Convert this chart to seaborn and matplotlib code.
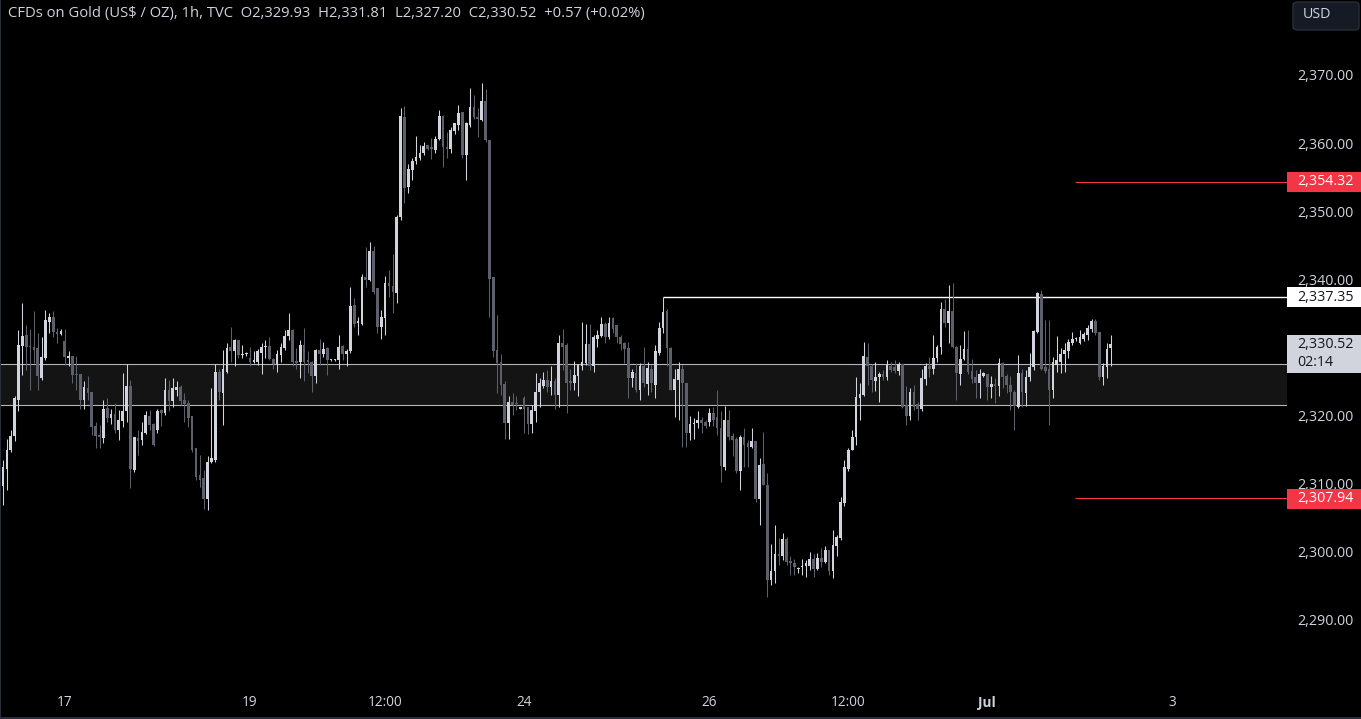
import numpy as np
import pandas as pd
import matplotlib
matplotlib.use("Agg")
import matplotlib.pyplot as plt
import matplotlib.transforms as mtransforms
from matplotlib.patches import Rectangle, FancyBboxPatch
import seaborn as sns

# ---------------- data (hourly candles) ----------------
opens = [
    2309.6, 2312.1, 2314.9, 2317.0, 2322.3, 2330.2, 2331.8, 2330.1, 2330.1, 2329.9,
    2325.5, 2328.4, 2333.8, 2334.4, 2332.3, 2332.0, 2330.9, 2328.5, 2328.7, 2326.1,
    2326.1, 2322.3, 2324.0, 2323.4, 2318.4, 2317.1, 2316.7, 2321.1, 2319.7, 2320.2,
    2317.8, 2319.2, 2320.6, 2324.3, 2312.0, 2316.7, 2316.4, 2317.5, 2319.9, 2318.7,
    2317.8, 2320.8, 2320.4, 2323.8, 2322.2, 2323.8, 2324.2, 2322.3, 2321.8, 2319.9,
    2315.3, 2311.2, 2310.8, 2307.8, 2313.2, 2313.4, 2326.4, 2323.3, 2326.4, 2330.1,
    2329.4, 2331.1, 2328.9, 2329.0, 2328.5, 2327.9, 2327.8, 2329.2, 2330.0, 2330.2,
    2328.3, 2327.6, 2328.9, 2329.9, 2331.7, 2332.5, 2328.0, 2327.8, 2330.3, 2328.2,
    2327.9, 2325.8, 2329.6, 2329.0, 2329.9, 2328.1, 2328.1, 2328.1, 2330.2, 2329.1,
    2329.4, 2336.2, 2333.6, 2333.5, 2340.4, 2339.9, 2344.1, 2338.7, 2333.0, 2334.3,
    2339.5, 2339.0, 2338.0, 2349.1, 2363.8, 2353.5, 2356.1, 2357.3, 2357.8, 2358.5,
    2359.7, 2359.5, 2359.0, 2360.6, 2364.0, 2359.5, 2359.2, 2361.8, 2362.7, 2364.5,
    2358.3, 2362.7, 2365.3, 2363.9, 2363.4, 2366.2, 2360.5, 2340.4, 2329.6, 2327.8,
    2324.6, 2318.9, 2322.0, 2321.9, 2321.0, 2322.5, 2321.2, 2318.8, 2320.7, 2323.5,
    2324.3, 2325.2, 2324.2, 2325.1, 2323.0, 2330.6, 2330.4, 2325.0, 2324.8, 2325.8,
    2327.3, 2327.7, 2330.5, 2327.2, 2331.3, 2331.7, 2333.5, 2331.6, 2334.3, 2333.3,
    2331.6, 2330.7, 2329.9, 2325.5, 2326.3, 2323.7, 2327.3, 2324.6, 2326.9, 2324.5,
    2329.2, 2332.8, 2335.3, 2329.9, 2323.7, 2325.2, 2326.9, 2324.7, 2317.5, 2318.8,
    2318.9, 2319.4, 2319.1, 2319.1, 2320.3, 2319.8, 2318.1, 2312.5, 2319.3, 2317.0,
    2316.6, 2311.8, 2316.9, 2315.9, 2315.4, 2316.2, 2307.8, 2312.9, 2309.8, 2295.9,
    2297.1, 2299.7, 2299.4, 2301.8, 2298.7, 2298.4, 2297.4, 2297.8, 2297.9, 2297.9,
    2298.9, 2297.4, 2299.1, 2298.5, 2300.2, 2297.1, 2300.8, 2302.0, 2307.2, 2312.2,
    2315.0, 2316.8, 2322.5, 2323.0, 2328.6, 2327.3, 2325.1, 2325.6, 2326.1, 2325.6,
    2327.2, 2327.1, 2326.6, 2327.5, 2321.5, 2319.9, 2323.5, 2321.7, 2320.9, 2325.3,
    2327.2, 2326.8, 2328.4, 2330.0, 2335.6, 2333.6, 2335.3, 2330.1, 2326.1, 2328.3,
    2329.7, 2326.6, 2325.6, 2324.7, 2325.8, 2326.1, 2324.2, 2324.5, 2324.3, 2327.7,
    2325.8, 2324.5, 2323.5, 2321.3, 2326.2, 2323.3, 2325.6, 2327.1, 2332.3, 2337.9,
    2327.1, 2326.8, 2323.7, 2327.4, 2327.9, 2329.0, 2329.5, 2330.7, 2331.2, 2330.6,
    2331.3, 2331.8, 2332.7, 2333.9, 2332.2, 2325.7, 2327.1, 2329.93,
]
highs = [
    2313.5, 2316.6, 2317.9, 2322.8, 2332.6, 2336.5, 2333.3, 2332.7, 2335.4, 2332.1,
    2331.6, 2335.5, 2335.1, 2335.4, 2332.9, 2332.7, 2332.7, 2329.4, 2328.7, 2328.7,
    2326.1, 2325.0, 2325.8, 2323.4, 2319.1, 2318.6, 2322.3, 2322.5, 2321.0, 2321.8,
    2320.8, 2326.2, 2327.6, 2325.2, 2316.9, 2317.9, 2319.1, 2320.6, 2320.8, 2318.9,
    2321.0, 2321.0, 2325.5, 2325.2, 2325.5, 2325.0, 2324.5, 2323.3, 2322.3, 2319.9,
    2315.3, 2314.2, 2312.0, 2314.0, 2324.0, 2327.6, 2326.9, 2329.6, 2330.6, 2333.0,
    2331.3, 2331.1, 2330.4, 2329.3, 2330.1, 2329.4, 2329.7, 2330.6, 2331.1, 2331.6,
    2328.4, 2329.6, 2330.6, 2332.6, 2335.0, 2332.7, 2329.9, 2331.1, 2332.8, 2329.4,
    2328.0, 2329.7, 2331.3, 2330.8, 2330.0, 2328.3, 2328.3, 2331.8, 2330.3, 2329.8,
    2338.9, 2337.2, 2334.5, 2340.8, 2344.8, 2345.5, 2344.9, 2338.7, 2335.5, 2340.5,
    2341.4, 2343.7, 2349.4, 2365.1, 2365.5, 2357.0, 2357.8, 2361.0, 2359.7, 2360.2,
    2359.7, 2360.8, 2361.0, 2364.9, 2364.1, 2361.7, 2362.4, 2363.0, 2365.6, 2364.6,
    2363.1, 2368.1, 2367.1, 2365.1, 2368.8, 2368.0, 2360.5, 2340.4, 2334.8, 2329.1,
    2325.0, 2322.8, 2323.3, 2322.8, 2321.3, 2322.8, 2321.3, 2321.5, 2326.2, 2325.5,
    2326.4, 2326.7, 2327.2, 2325.5, 2331.8, 2332.7, 2330.6, 2326.9, 2328.0, 2327.6,
    2333.8, 2333.5, 2333.5, 2331.8, 2332.6, 2334.4, 2333.8, 2334.4, 2334.4, 2333.3,
    2331.8, 2330.8, 2330.8, 2326.9, 2327.7, 2327.7, 2330.1, 2327.9, 2327.4, 2330.4,
    2333.8, 2337.35, 2335.7, 2330.1, 2326.9, 2327.9, 2327.4, 2324.7, 2319.9, 2319.6,
    2320.6, 2319.8, 2319.3, 2321.1, 2321.3, 2323.7, 2320.6, 2321.4, 2320.8, 2317.4,
    2316.9, 2317.1, 2318.1, 2316.4, 2318.1, 2316.2, 2313.7, 2317.6, 2311.5, 2301.2,
    2303.9, 2302.0, 2302.7, 2302.1, 2299.3, 2298.9, 2297.8, 2299.0, 2298.8, 2300.0,
    2299.7, 2299.8, 2300.5, 2300.8, 2300.3, 2303.2, 2302.5, 2308.1, 2313.5, 2315.2,
    2317.8, 2325.7, 2324.7, 2330.8, 2330.7, 2327.6, 2327.8, 2326.4, 2326.7, 2328.2,
    2327.9, 2328.2, 2327.9, 2327.7, 2324.3, 2324.0, 2324.5, 2322.0, 2326.9, 2327.7,
    2328.6, 2331.8, 2330.4, 2336.7, 2337.1, 2339.2, 2339.5, 2330.2, 2330.4, 2332.4,
    2332.6, 2328.3, 2326.7, 2326.8, 2326.4, 2326.1, 2325.8, 2325.5, 2328.4, 2327.8,
    2326.1, 2325.8, 2323.8, 2328.9, 2326.8, 2326.7, 2329.2, 2332.6, 2338.2, 2338.4,
    2334.0, 2334.0, 2328.6, 2331.7, 2329.9, 2330.7, 2331.3, 2332.2, 2331.6, 2332.6,
    2332.3, 2333.3, 2334.1, 2334.1, 2332.3, 2327.7, 2330.6, 2331.81,
]
lows = [
    2306.9, 2309.1, 2314.7, 2316.2, 2320.6, 2326.0, 2326.7, 2323.7, 2327.7, 2323.7,
    2325.2, 2328.2, 2332.1, 2331.6, 2330.6, 2331.8, 2327.4, 2327.2, 2324.8, 2323.7,
    2321.0, 2321.0, 2322.3, 2317.1, 2315.2, 2315.3, 2315.9, 2319.1, 2318.8, 2317.4,
    2316.4, 2318.3, 2319.1, 2309.3, 2311.7, 2314.2, 2315.7, 2317.3, 2317.9, 2315.5,
    2317.4, 2318.4, 2320.1, 2320.6, 2321.3, 2322.8, 2321.5, 2319.1, 2318.3, 2314.7,
    2310.5, 2309.5, 2306.2, 2306.1, 2313.0, 2313.2, 2322.3, 2318.6, 2326.2, 2327.9,
    2327.2, 2328.4, 2328.4, 2328.8, 2327.2, 2327.7, 2327.4, 2326.1, 2328.4, 2328.2,
    2326.9, 2326.4, 2327.9, 2329.6, 2331.1, 2327.2, 2326.9, 2325.5, 2325.0, 2326.2,
    2323.5, 2324.7, 2327.4, 2328.6, 2326.0, 2328.0, 2328.0, 2326.9, 2328.2, 2327.3,
    2329.2, 2333.0, 2331.8, 2333.3, 2338.9, 2339.7, 2337.9, 2332.1, 2331.2, 2331.8,
    2337.4, 2335.0, 2336.5, 2348.7, 2351.2, 2352.6, 2354.6, 2357.0, 2357.5, 2358.3,
    2359.0, 2357.6, 2358.5, 2360.4, 2356.5, 2357.8, 2358.5, 2361.4, 2361.9, 2357.8,
    2354.6, 2362.4, 2363.5, 2360.9, 2363.2, 2360.2, 2334.5, 2328.6, 2323.3, 2323.0,
    2316.5, 2316.5, 2320.1, 2320.8, 2320.9, 2317.4, 2317.3, 2317.5, 2319.1, 2321.3,
    2324.0, 2323.5, 2323.0, 2321.0, 2321.3, 2326.7, 2320.3, 2323.7, 2323.7, 2322.9,
    2326.7, 2327.4, 2326.7, 2326.4, 2330.1, 2331.6, 2330.6, 2331.3, 2332.1, 2330.6,
    2329.6, 2327.7, 2322.5, 2324.2, 2323.5, 2322.3, 2324.2, 2323.0, 2323.5, 2322.5,
    2328.9, 2332.1, 2327.2, 2323.7, 2319.8, 2319.3, 2315.4, 2315.4, 2316.4, 2316.6,
    2318.1, 2317.5, 2318.1, 2318.4, 2318.4, 2317.1, 2310.3, 2312.0, 2316.4, 2314.0,
    2311.5, 2309.1, 2312.5, 2312.5, 2315.2, 2307.3, 2303.9, 2309.8, 2293.4, 2295.1,
    2295.4, 2298.0, 2298.8, 2298.0, 2296.6, 2296.6, 2296.8, 2296.6, 2296.3, 2297.3,
    2296.3, 2297.3, 2297.8, 2298.4, 2296.6, 2296.1, 2299.3, 2301.7, 2306.7, 2311.9,
    2315.7, 2315.7, 2319.3, 2322.8, 2324.5, 2323.5, 2323.6, 2322.0, 2325.2, 2325.2,
    2326.4, 2326.2, 2325.9, 2321.1, 2318.6, 2319.4, 2320.8, 2319.3, 2320.7, 2324.5,
    2325.7, 2326.1, 2327.8, 2329.1, 2333.0, 2330.7, 2329.9, 2322.3, 2324.5, 2328.1,
    2326.1, 2324.7, 2322.5, 2322.5, 2325.6, 2322.3, 2322.5, 2321.8, 2322.9, 2324.0,
    2323.3, 2320.8, 2317.9, 2321.1, 2321.3, 2321.4, 2325.0, 2326.7, 2332.1, 2326.7,
    2326.2, 2318.6, 2322.5, 2326.4, 2326.2, 2326.4, 2328.5, 2330.4, 2331.0, 2330.5,
    2331.0, 2331.1, 2332.3, 2331.8, 2325.2, 2324.5, 2325.5, 2327.20,
]
closes = [
    2312.5, 2315.0, 2317.0, 2322.5, 2330.4, 2331.7, 2330.1, 2330.0, 2329.6, 2325.8,
    2328.6, 2334.0, 2334.5, 2332.2, 2331.9, 2332.4, 2328.6, 2328.7, 2326.0, 2326.0,
    2322.3, 2324.2, 2323.3, 2318.3, 2317.0, 2316.8, 2321.0, 2319.7, 2320.2, 2317.8,
    2319.4, 2320.7, 2324.3, 2312.1, 2316.8, 2316.3, 2317.6, 2320.1, 2318.6, 2315.7,
    2320.7, 2320.4, 2323.7, 2322.2, 2324.0, 2324.2, 2322.2, 2321.7, 2319.7, 2315.0,
    2311.0, 2310.5, 2307.8, 2313.2, 2313.7, 2326.4, 2323.4, 2326.8, 2329.9, 2329.5,
    2331.1, 2328.9, 2329.1, 2329.1, 2327.9, 2328.2, 2329.4, 2330.0, 2330.1, 2328.3,
    2327.6, 2329.0, 2330.1, 2331.7, 2332.5, 2327.8, 2327.7, 2330.3, 2327.9, 2327.8,
    2325.8, 2329.6, 2329.0, 2329.8, 2328.2, 2328.2, 2328.2, 2330.1, 2329.1, 2329.5,
    2336.1, 2333.5, 2333.9, 2340.4, 2339.9, 2344.1, 2338.2, 2333.0, 2334.5, 2339.4,
    2339.0, 2338.2, 2349.2, 2364.0, 2353.4, 2356.2, 2357.3, 2357.9, 2358.6, 2359.6,
    2359.2, 2359.2, 2360.6, 2364.0, 2359.5, 2359.2, 2361.9, 2362.9, 2364.4, 2358.3,
    2362.9, 2365.3, 2363.9, 2363.5, 2366.2, 2360.4, 2340.1, 2329.4, 2327.7, 2324.5,
    2318.9, 2322.0, 2321.5, 2321.7, 2321.2, 2321.0, 2318.8, 2320.8, 2323.5, 2324.7,
    2325.2, 2324.2, 2325.0, 2323.0, 2330.6, 2330.1, 2324.7, 2324.7, 2326.0, 2327.4,
    2327.8, 2330.5, 2327.2, 2331.6, 2331.8, 2333.5, 2331.6, 2333.6, 2332.7, 2331.5,
    2330.5, 2329.7, 2325.5, 2326.4, 2323.7, 2327.2, 2324.7, 2327.0, 2324.7, 2329.4,
    2332.8, 2335.2, 2329.9, 2323.7, 2325.3, 2326.8, 2324.7, 2317.4, 2318.8, 2318.9,
    2319.4, 2318.9, 2318.4, 2320.3, 2319.4, 2318.1, 2312.6, 2319.3, 2316.9, 2316.4,
    2311.8, 2316.9, 2315.7, 2315.4, 2316.2, 2307.8, 2312.7, 2309.8, 2295.8, 2297.2,
    2299.7, 2299.3, 2301.8, 2298.5, 2298.3, 2297.7, 2297.5, 2297.9, 2298.3, 2298.9,
    2297.4, 2299.1, 2298.5, 2300.3, 2297.1, 2301.0, 2302.2, 2307.3, 2312.5, 2315.0,
    2316.9, 2322.7, 2323.2, 2328.7, 2327.2, 2325.2, 2325.7, 2326.1, 2325.6, 2327.4,
    2326.7, 2326.6, 2327.5, 2321.3, 2319.9, 2323.5, 2321.3, 2320.9, 2325.5, 2327.2,
    2326.8, 2328.5, 2330.1, 2335.6, 2333.6, 2335.3, 2330.1, 2326.2, 2328.3, 2329.7,
    2326.4, 2325.3, 2324.7, 2326.1, 2326.2, 2324.2, 2324.6, 2324.4, 2327.7, 2325.7,
    2324.5, 2323.4, 2321.4, 2326.2, 2323.4, 2325.7, 2327.1, 2332.4, 2338.0, 2326.9,
    2326.6, 2323.7, 2327.9, 2328.1, 2329.0, 2329.6, 2330.8, 2331.3, 2331.4, 2331.6,
    2331.9, 2332.8, 2333.9, 2332.1, 2325.6, 2327.2, 2329.7, 2330.52,
]

tick_index = [16, 64, 99, 135, 183, 219, 255, 303]
tick_labels = ["17", "19", "12:00", "24", "26", "12:00", "Jul", "3"]
price_ticks = [2290, 2300, 2310, 2320, 2340, 2350, 2360, 2370]

zone_low, zone_high = 2321.6, 2327.5
resistance = 2337.35
resistance_start = 171
target_up = 2354.32
target_down = 2307.94
last_close = 2330.52
countdown = "02:14"
header = ("CFDs on Gold (US$ / OZ), 1h, TVC  O2,329.93  H2,331.81  "
          "L2,327.20  C2,330.52  +0.57 (+0.02%)")

# ---------------- styling ----------------
BG = "#000000"
BULL = "#d1d4dc"
BEAR = "#5d606b"
TXT = "#d1d4dc"
RED = "#f23645"

sns.set_theme(style="dark", rc={"axes.facecolor": BG, "figure.facecolor": BG,
                                 "axes.grid": False})
plt.rcParams["font.family"] = ["Open Sans", "DejaVu Sans"]

W, H = 1361, 719
PX_PER_USD = 6.81
AX_RIGHT, AX_BOTTOM = 1287, 683
fig = plt.figure(figsize=(W / 100, H / 100), dpi=100, facecolor=BG)
ax = fig.add_axes([0, (H - AX_BOTTOM) / H, AX_RIGHT / W, AX_BOTTOM / H])
ax.set_facecolor(BG)

df = pd.DataFrame({"open": opens, "high": highs, "low": lows, "close": closes})
df["k"] = np.arange(len(df))
df["high"] = df[["high", "open", "close"]].max(axis=1)
df["low"] = df[["low", "open", "close"]].min(axis=1)
df["bull"] = df["close"] >= df["open"]
colors = np.where(df["bull"], BULL, BEAR)

# axis limits (price 2370 sits 75 px from the top)
y_top = 2370 + 75 / PX_PER_USD
y_bot = 2370 - (AX_BOTTOM - 75) / PX_PER_USD
cw = 3.86  # px per candle
x_left = -3 / cw
x_right = x_left + AX_RIGHT / cw
ax.set_ylim(y_bot, y_top)
ax.set_xlim(x_left, x_right)

# zone
ax.axhspan(zone_low, zone_high, color="#141414", lw=0, zorder=1)
for lvl in (zone_low, zone_high):
    ax.axhline(lvl, color="#b2b5be", lw=0.8, zorder=2)

# resistance line
ax.hlines(resistance, resistance_start, x_right, color="white", lw=1.0, zorder=2)

blend = mtransforms.blended_transform_factory(ax.transAxes, ax.transData)
for lvl in (target_up, target_down):
    ax.plot([1075 / AX_RIGHT, 1.0], [lvl, lvl], transform=blend, color=RED,
            lw=0.8, zorder=2, solid_capstyle="butt")

# candles
ax.vlines(df["k"], df["low"], df["high"], colors=colors, linewidth=0.75, zorder=3)
body_bottom = np.minimum(df["open"], df["close"])
body_h = np.maximum((df["close"] - df["open"]).abs(), 0.16)
ax.bar(df["k"], body_h, bottom=body_bottom, width=0.7, color=colors,
       linewidth=0, zorder=4)

# axes cosmetics
for s in ax.spines.values():
    s.set_visible(False)
ax.yaxis.tick_right()
ax.set_yticks(price_ticks)
ax.set_yticklabels([f"{v:,.2f}" for v in price_ticks])
ax.tick_params(axis="y", length=0, pad=7.2, labelsize=10.3, labelcolor=TXT)
ax.set_xticks(tick_index)
ax.set_xticklabels(tick_labels)
ax.tick_params(axis="x", length=0, pad=9, labelsize=9.8, labelcolor=TXT)
for lab in ax.get_xticklabels():
    if lab.get_text() == "Jul":
        lab.set_fontweight("bold")

# price labels on the scale
box_w = W / AX_RIGHT - 1.0
text_x = 1297 / AX_RIGHT


def price_box(price, text, fc, tc, top_px=10, bot_px=10):
    top = price + top_px / PX_PER_USD
    bot = price - bot_px / PX_PER_USD
    ax.add_patch(Rectangle((1.0, bot), box_w, top - bot, transform=blend,
                           clip_on=False, fc=fc, ec="none", zorder=10))
    mid = (top + bot) / 2
    ax.text(text_x, mid, text, transform=blend, clip_on=False, ha="left",
            va="center", color=tc, fontsize=10.3, zorder=11)


price_box(target_up, f"{target_up:,.2f}", RED, "white")
price_box(target_down, f"{target_down:,.2f}", RED, "white", top_px=9, bot_px=11)
price_box(resistance, f"{resistance:,.2f}", "white", "#131722")
# current price box (two lines)
top = last_close + 9 / PX_PER_USD
bot = last_close - 29 / PX_PER_USD
ax.add_patch(Rectangle((1.0, bot), box_w, top - bot, transform=blend,
                       clip_on=False, fc="#d1d4dc", ec="none", zorder=10))
ax.text(text_x, last_close - 1 / PX_PER_USD, f"{last_close:,.2f}", transform=blend,
        clip_on=False, ha="left", va="center", color="#131722", fontsize=10.3,
        zorder=11)
ax.text(text_x, last_close - 19 / PX_PER_USD, countdown, transform=blend,
        clip_on=False, ha="left", va="center", color="#131722", fontsize=10.3,
        zorder=11)

# USD button
fig.patches.append(FancyBboxPatch((1293 / W, 1 - 30 / H), 66 / W, 28 / H,
                                  boxstyle="round,pad=0,rounding_size=0.004",
                                  transform=fig.transFigure, fc="#161a25",
                                  ec="#2a2e39", lw=1.0))
fig.text(1303 / W, 1 - 15 / H, "USD", ha="left", va="center", color=TXT,
         fontsize=10.3)

# bottom / left border
fig.patches.append(Rectangle((0, 0), 1, 2.5 / H, transform=fig.transFigure,
                             fc="#2a2e39", ec="none"))
fig.patches.append(Rectangle((0, 0), 1.2 / W, 1, transform=fig.transFigure,
                             fc="#2a2e39", ec="none"))

# header
t = fig.text(8 / W, 1 - 14 / H, header, ha="left", va="center", color=TXT,
             fontsize=10)
fig.canvas.draw()
wpx = t.get_window_extent().width
t.set_fontsize(10 * 633 / wpx)

fig.savefig("out.png", dpi=100, facecolor=BG)
